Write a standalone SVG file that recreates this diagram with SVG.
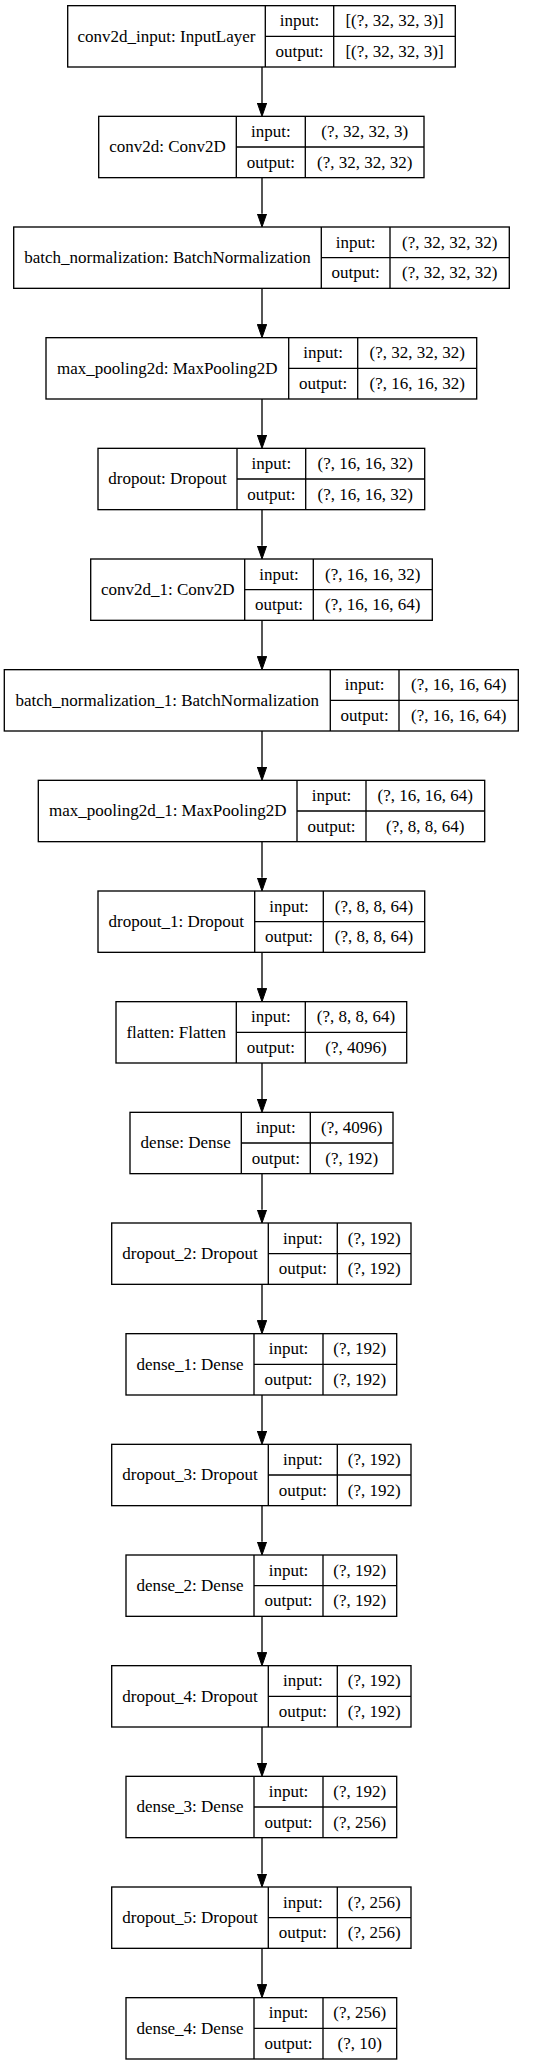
<svg xmlns="http://www.w3.org/2000/svg" width="557" height="2065" viewBox="0 0 557 2065">
<defs>
<style>
.bg{fill:#ffffff}
.box{fill:#ffffff;stroke:#000000;stroke-width:1.33}
.ln{stroke:#000000;stroke-width:1.33;fill:none}
.t{font-family:"Liberation Serif","Times New Roman",serif;font-size:17px;fill:#000000;text-anchor:middle}
.edge{stroke:#000000;stroke-width:1.33;fill:none;marker-end:url(#arr)}
</style>
<marker id="arr" markerUnits="userSpaceOnUse" viewBox="0 0 13.33 9.33" markerWidth="13.33" markerHeight="9.33" refX="0" refY="4.67" orient="auto">
<path d="M0,0 L13.33,4.67 L0,9.33 Z" fill="#000000" stroke="#000000" stroke-width="1"/>
</marker>
</defs>
<rect class="bg" x="0" y="0" width="557" height="2065"/>

<g id="connectors">
<line class="edge" x1="262" y1="67" x2="262" y2="103"/>
<line class="edge" x1="262" y1="177.67" x2="262" y2="213.67"/>
<line class="edge" x1="262" y1="288.33" x2="262" y2="324.33"/>
<line class="edge" x1="262" y1="399" x2="262" y2="435"/>
<line class="edge" x1="262" y1="509.67" x2="262" y2="545.67"/>
<line class="edge" x1="262" y1="620.33" x2="262" y2="656.33"/>
<line class="edge" x1="262" y1="731" x2="262" y2="767"/>
<line class="edge" x1="262" y1="841.67" x2="262" y2="877.67"/>
<line class="edge" x1="262" y1="952.33" x2="262" y2="988.33"/>
<line class="edge" x1="262" y1="1063" x2="262" y2="1099"/>
<line class="edge" x1="262" y1="1173.67" x2="262" y2="1209.67"/>
<line class="edge" x1="262" y1="1284.33" x2="262" y2="1320.33"/>
<line class="edge" x1="262" y1="1395" x2="262" y2="1431"/>
<line class="edge" x1="262" y1="1505.67" x2="262" y2="1541.67"/>
<line class="edge" x1="262" y1="1616.33" x2="262" y2="1652.33"/>
<line class="edge" x1="262" y1="1727" x2="262" y2="1763"/>
<line class="edge" x1="262" y1="1837.67" x2="262" y2="1873.67"/>
<line class="edge" x1="262" y1="1948.33" x2="262" y2="1984.33"/>
</g>

<g id="conv2d_input" transform="translate(0,5.67)">
<rect class="box" x="67.7" y="0" width="387.6" height="61.33"/>
<line class="ln" x1="265.3" y1="0" x2="265.3" y2="61.33"/>
<line class="ln" x1="333.7" y1="0" x2="333.7" y2="61.33"/>
<line class="ln" x1="265.3" y1="30.67" x2="455.3" y2="30.67"/>
<text class="t" x="166.5" y="36">conv2d_input: InputLayer</text>
<text class="t" x="299.5" y="20.7">input:</text>
<text class="t" x="299.5" y="51.3">output:</text>
<text class="t" x="394.5" y="20.7">[(?, 32, 32, 3)]</text>
<text class="t" x="394.5" y="51.3">[(?, 32, 32, 3)]</text>
</g>

<g id="conv2d" transform="translate(0,116.33)">
<rect class="box" x="98.7" y="0" width="325.3" height="61.33"/>
<line class="ln" x1="236.3" y1="0" x2="236.3" y2="61.33"/>
<line class="ln" x1="305.3" y1="0" x2="305.3" y2="61.33"/>
<line class="ln" x1="236.3" y1="30.67" x2="424" y2="30.67"/>
<text class="t" x="167.5" y="36">conv2d: Conv2D</text>
<text class="t" x="270.8" y="20.7">input:</text>
<text class="t" x="270.8" y="51.3">output:</text>
<text class="t" x="364.7" y="20.7">(?, 32, 32, 3)</text>
<text class="t" x="364.7" y="51.3">(?, 32, 32, 32)</text>
</g>

<g id="batch_normalization" transform="translate(0,227)">
<rect class="box" x="13.7" y="0" width="495.6" height="61.33"/>
<line class="ln" x1="321.3" y1="0" x2="321.3" y2="61.33"/>
<line class="ln" x1="390" y1="0" x2="390" y2="61.33"/>
<line class="ln" x1="321.3" y1="30.67" x2="509.3" y2="30.67"/>
<text class="t" x="167.5" y="36">batch_normalization: BatchNormalization</text>
<text class="t" x="355.7" y="20.7">input:</text>
<text class="t" x="355.7" y="51.3">output:</text>
<text class="t" x="449.7" y="20.7">(?, 32, 32, 32)</text>
<text class="t" x="449.7" y="51.3">(?, 32, 32, 32)</text>
</g>

<g id="max_pooling2d" transform="translate(0,337.67)">
<rect class="box" x="46" y="0" width="430.7" height="61.33"/>
<line class="ln" x1="288.7" y1="0" x2="288.7" y2="61.33"/>
<line class="ln" x1="357.7" y1="0" x2="357.7" y2="61.33"/>
<line class="ln" x1="288.7" y1="30.67" x2="476.7" y2="30.67"/>
<text class="t" x="167.3" y="36">max_pooling2d: MaxPooling2D</text>
<text class="t" x="323.2" y="20.7">input:</text>
<text class="t" x="323.2" y="51.3">output:</text>
<text class="t" x="417.2" y="20.7">(?, 32, 32, 32)</text>
<text class="t" x="417.2" y="51.3">(?, 16, 16, 32)</text>
</g>

<g id="dropout" transform="translate(0,448.33)">
<rect class="box" x="98" y="0" width="326.7" height="61.33"/>
<line class="ln" x1="237" y1="0" x2="237" y2="61.33"/>
<line class="ln" x1="305.7" y1="0" x2="305.7" y2="61.33"/>
<line class="ln" x1="237" y1="30.67" x2="424.7" y2="30.67"/>
<text class="t" x="167.5" y="36">dropout: Dropout</text>
<text class="t" x="271.3" y="20.7">input:</text>
<text class="t" x="271.3" y="51.3">output:</text>
<text class="t" x="365.2" y="20.7">(?, 16, 16, 32)</text>
<text class="t" x="365.2" y="51.3">(?, 16, 16, 32)</text>
</g>

<g id="conv2d_1" transform="translate(0,559)">
<rect class="box" x="90.7" y="0" width="341.6" height="61.33"/>
<line class="ln" x1="244.7" y1="0" x2="244.7" y2="61.33"/>
<line class="ln" x1="313.3" y1="0" x2="313.3" y2="61.33"/>
<line class="ln" x1="244.7" y1="30.67" x2="432.3" y2="30.67"/>
<text class="t" x="167.7" y="36">conv2d_1: Conv2D</text>
<text class="t" x="279" y="20.7">input:</text>
<text class="t" x="279" y="51.3">output:</text>
<text class="t" x="372.8" y="20.7">(?, 16, 16, 32)</text>
<text class="t" x="372.8" y="51.3">(?, 16, 16, 64)</text>
</g>

<g id="batch_normalization_1" transform="translate(0,669.67)">
<rect class="box" x="4.3" y="0" width="514" height="61.33"/>
<line class="ln" x1="330.3" y1="0" x2="330.3" y2="61.33"/>
<line class="ln" x1="399" y1="0" x2="399" y2="61.33"/>
<line class="ln" x1="330.3" y1="30.67" x2="518.3" y2="30.67"/>
<text class="t" x="167.3" y="36">batch_normalization_1: BatchNormalization</text>
<text class="t" x="364.7" y="20.7">input:</text>
<text class="t" x="364.7" y="51.3">output:</text>
<text class="t" x="458.7" y="20.7">(?, 16, 16, 64)</text>
<text class="t" x="458.7" y="51.3">(?, 16, 16, 64)</text>
</g>

<g id="max_pooling2d_1" transform="translate(0,780.33)">
<rect class="box" x="38.3" y="0" width="446.4" height="61.33"/>
<line class="ln" x1="297" y1="0" x2="297" y2="61.33"/>
<line class="ln" x1="366" y1="0" x2="366" y2="61.33"/>
<line class="ln" x1="297" y1="30.67" x2="484.7" y2="30.67"/>
<text class="t" x="167.7" y="36">max_pooling2d_1: MaxPooling2D</text>
<text class="t" x="331.5" y="20.7">input:</text>
<text class="t" x="331.5" y="51.3">output:</text>
<text class="t" x="425.3" y="20.7">(?, 16, 16, 64)</text>
<text class="t" x="425.3" y="51.3">(?, 8, 8, 64)</text>
</g>

<g id="dropout_1" transform="translate(0,891)">
<rect class="box" x="98" y="0" width="326.7" height="61.33"/>
<line class="ln" x1="254.7" y1="0" x2="254.7" y2="61.33"/>
<line class="ln" x1="323.3" y1="0" x2="323.3" y2="61.33"/>
<line class="ln" x1="254.7" y1="30.67" x2="424.7" y2="30.67"/>
<text class="t" x="176.3" y="36">dropout_1: Dropout</text>
<text class="t" x="289" y="20.7">input:</text>
<text class="t" x="289" y="51.3">output:</text>
<text class="t" x="374" y="20.7">(?, 8, 8, 64)</text>
<text class="t" x="374" y="51.3">(?, 8, 8, 64)</text>
</g>

<g id="flatten" transform="translate(0,1001.67)">
<rect class="box" x="116" y="0" width="290.7" height="61.33"/>
<line class="ln" x1="236.3" y1="0" x2="236.3" y2="61.33"/>
<line class="ln" x1="305.3" y1="0" x2="305.3" y2="61.33"/>
<line class="ln" x1="236.3" y1="30.67" x2="406.7" y2="30.67"/>
<text class="t" x="176.2" y="36">flatten: Flatten</text>
<text class="t" x="270.8" y="20.7">input:</text>
<text class="t" x="270.8" y="51.3">output:</text>
<text class="t" x="356" y="20.7">(?, 8, 8, 64)</text>
<text class="t" x="356" y="51.3">(?, 4096)</text>
</g>

<g id="dense" transform="translate(0,1112.33)">
<rect class="box" x="130" y="0" width="263" height="61.33"/>
<line class="ln" x1="241.3" y1="0" x2="241.3" y2="61.33"/>
<line class="ln" x1="310.3" y1="0" x2="310.3" y2="61.33"/>
<line class="ln" x1="241.3" y1="30.67" x2="393" y2="30.67"/>
<text class="t" x="185.7" y="36">dense: Dense</text>
<text class="t" x="275.8" y="20.7">input:</text>
<text class="t" x="275.8" y="51.3">output:</text>
<text class="t" x="351.7" y="20.7">(?, 4096)</text>
<text class="t" x="351.7" y="51.3">(?, 192)</text>
</g>

<g id="dropout_2" transform="translate(0,1223)">
<rect class="box" x="111.7" y="0" width="299.3" height="61.33"/>
<line class="ln" x1="268.3" y1="0" x2="268.3" y2="61.33"/>
<line class="ln" x1="337.3" y1="0" x2="337.3" y2="61.33"/>
<line class="ln" x1="268.3" y1="30.67" x2="411" y2="30.67"/>
<text class="t" x="190" y="36">dropout_2: Dropout</text>
<text class="t" x="302.8" y="20.7">input:</text>
<text class="t" x="302.8" y="51.3">output:</text>
<text class="t" x="374.2" y="20.7">(?, 192)</text>
<text class="t" x="374.2" y="51.3">(?, 192)</text>
</g>

<g id="dense_1" transform="translate(0,1333.67)">
<rect class="box" x="126" y="0" width="270.7" height="61.33"/>
<line class="ln" x1="254" y1="0" x2="254" y2="61.33"/>
<line class="ln" x1="323" y1="0" x2="323" y2="61.33"/>
<line class="ln" x1="254" y1="30.67" x2="396.7" y2="30.67"/>
<text class="t" x="190" y="36">dense_1: Dense</text>
<text class="t" x="288.5" y="20.7">input:</text>
<text class="t" x="288.5" y="51.3">output:</text>
<text class="t" x="359.8" y="20.7">(?, 192)</text>
<text class="t" x="359.8" y="51.3">(?, 192)</text>
</g>

<g id="dropout_3" transform="translate(0,1444.33)">
<rect class="box" x="111.7" y="0" width="299.3" height="61.33"/>
<line class="ln" x1="268.3" y1="0" x2="268.3" y2="61.33"/>
<line class="ln" x1="337.3" y1="0" x2="337.3" y2="61.33"/>
<line class="ln" x1="268.3" y1="30.67" x2="411" y2="30.67"/>
<text class="t" x="190" y="36">dropout_3: Dropout</text>
<text class="t" x="302.8" y="20.7">input:</text>
<text class="t" x="302.8" y="51.3">output:</text>
<text class="t" x="374.2" y="20.7">(?, 192)</text>
<text class="t" x="374.2" y="51.3">(?, 192)</text>
</g>

<g id="dense_2" transform="translate(0,1555)">
<rect class="box" x="126" y="0" width="270.7" height="61.33"/>
<line class="ln" x1="254" y1="0" x2="254" y2="61.33"/>
<line class="ln" x1="323" y1="0" x2="323" y2="61.33"/>
<line class="ln" x1="254" y1="30.67" x2="396.7" y2="30.67"/>
<text class="t" x="190" y="36">dense_2: Dense</text>
<text class="t" x="288.5" y="20.7">input:</text>
<text class="t" x="288.5" y="51.3">output:</text>
<text class="t" x="359.8" y="20.7">(?, 192)</text>
<text class="t" x="359.8" y="51.3">(?, 192)</text>
</g>

<g id="dropout_4" transform="translate(0,1665.67)">
<rect class="box" x="111.7" y="0" width="299.3" height="61.33"/>
<line class="ln" x1="268.3" y1="0" x2="268.3" y2="61.33"/>
<line class="ln" x1="337.3" y1="0" x2="337.3" y2="61.33"/>
<line class="ln" x1="268.3" y1="30.67" x2="411" y2="30.67"/>
<text class="t" x="190" y="36">dropout_4: Dropout</text>
<text class="t" x="302.8" y="20.7">input:</text>
<text class="t" x="302.8" y="51.3">output:</text>
<text class="t" x="374.2" y="20.7">(?, 192)</text>
<text class="t" x="374.2" y="51.3">(?, 192)</text>
</g>

<g id="dense_3" transform="translate(0,1776.33)">
<rect class="box" x="126" y="0" width="270.7" height="61.33"/>
<line class="ln" x1="254" y1="0" x2="254" y2="61.33"/>
<line class="ln" x1="323" y1="0" x2="323" y2="61.33"/>
<line class="ln" x1="254" y1="30.67" x2="396.7" y2="30.67"/>
<text class="t" x="190" y="36">dense_3: Dense</text>
<text class="t" x="288.5" y="20.7">input:</text>
<text class="t" x="288.5" y="51.3">output:</text>
<text class="t" x="359.8" y="20.7">(?, 192)</text>
<text class="t" x="359.8" y="51.3">(?, 256)</text>
</g>

<g id="dropout_5" transform="translate(0,1887)">
<rect class="box" x="111.7" y="0" width="299.3" height="61.33"/>
<line class="ln" x1="268.3" y1="0" x2="268.3" y2="61.33"/>
<line class="ln" x1="337.3" y1="0" x2="337.3" y2="61.33"/>
<line class="ln" x1="268.3" y1="30.67" x2="411" y2="30.67"/>
<text class="t" x="190" y="36">dropout_5: Dropout</text>
<text class="t" x="302.8" y="20.7">input:</text>
<text class="t" x="302.8" y="51.3">output:</text>
<text class="t" x="374.2" y="20.7">(?, 256)</text>
<text class="t" x="374.2" y="51.3">(?, 256)</text>
</g>

<g id="dense_4" transform="translate(0,1997.67)">
<rect class="box" x="126" y="0" width="270.7" height="61.33"/>
<line class="ln" x1="254" y1="0" x2="254" y2="61.33"/>
<line class="ln" x1="323" y1="0" x2="323" y2="61.33"/>
<line class="ln" x1="254" y1="30.67" x2="396.7" y2="30.67"/>
<text class="t" x="190" y="36">dense_4: Dense</text>
<text class="t" x="288.5" y="20.7">input:</text>
<text class="t" x="288.5" y="51.3">output:</text>
<text class="t" x="359.8" y="20.7">(?, 256)</text>
<text class="t" x="359.8" y="51.3">(?, 10)</text>
</g>
</svg>
